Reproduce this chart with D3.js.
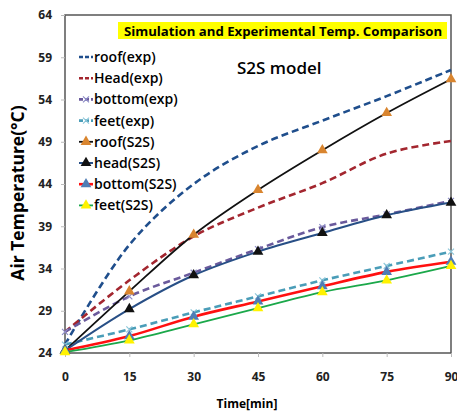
<!DOCTYPE html>
<html>
<head>
<meta charset="utf-8">
<script src="https://cdn.jsdelivr.net/npm/d3@7"></script>
<style>
  body { margin: 0; background: #fff; }
  svg { font-family: "Open Sans", "Noto Sans", sans-serif; }
</style>
</head>
<body>
<svg width="457" height="417"></svg>
<script>
// time axis, minutes
var times = [0, 15, 30, 45, 60, 75, 90];
var yTicks = [24, 29, 34, 39, 44, 49, 54, 59, 64];

// temperatures
var roofExp   = [25.0, 36.8, 44.0, 48.5, 51.5, 54.4, 57.5];
var headExp   = [26.5, 32.6, 37.8, 41.2, 44.1, 47.6, 49.1];
var bottomExp = [26.5, 30.7, 33.5, 36.3, 38.9, 40.4, 42.0];
var feetExp   = [25.0, 26.8, 28.8, 30.7, 32.6, 34.3, 36.0];
var roofS2S   = [24.3, 31.3, 38.0, 43.3, 48.0, 52.4, 56.4];
var headS2S   = [24.3, 29.2, 33.2, 36.0, 38.2, 40.3, 41.8];
var bottomS2S = [24.3, 26.0, 28.3, 30.1, 31.9, 33.6, 34.8];
var feetS2S   = [24.1, 25.5, 27.4, 29.3, 31.2, 32.6, 34.3];

var series = [
  {name: "roof(exp)",   vals: roofExp,   line: "#1F4E8C", dash: "7,4", w: 2.6, mark: null},
  {name: "Head(exp)",   vals: headExp,   line: "#A3262F", dash: "7,4", w: 2.6, mark: null},
  {name: "bottom(exp)", vals: bottomExp, line: "#6A5A9C", dash: "7,4", w: 2.6, mark: "x", mcol: "#8E8EC8"},
  {name: "feet(exp)",   vals: feetExp,   line: "#4A9DB8", dash: "7,4", w: 2.6, mark: "x", mcol: "#8FC8DA"},
  {name: "roof(S2S)",   vals: roofS2S,   line: "#111111", dash: null,  w: 1.8, mark: "tri", mcol: "#D9852F"},
  {name: "head(S2S)",   vals: headS2S,   line: "#284F86", dash: null,  w: 2.0, mark: "tri", mcol: "#111111"},
  {name: "bottom(S2S)", vals: bottomS2S, line: "#FF1010", dash: null,  w: 2.6, mark: "tri", mcol: "#4F7DB5"},
  {name: "feet(S2S)",   vals: feetS2S,   line: "#1BA84A", dash: null,  w: 1.8, mark: "tri", mcol: "#FFF200"}
];

var svg = d3.select("svg");
var plotL = 65, plotR = 451, plotT = 15, plotB = 353;

var x = d3.scaleLinear().domain([0, 90]).range([plotL, plotR]);
var y = d3.scaleLinear().domain([24, 64]).range([plotB, plotT]);

// frame
svg.append("rect")
  .attr("x", plotL).attr("y", plotT)
  .attr("width", plotR - plotL).attr("height", plotB - plotT)
  .style("fill", "#fff").style("stroke", "#555").style("stroke-width", 1.5);

// axes
var yAxis = svg.append("g")
  .attr("transform", "translate(" + plotL + ",0)")
  .call(d3.axisLeft(y).tickValues(yTicks).tickSize(4).tickPadding(9));
var xAxis = svg.append("g")
  .attr("transform", "translate(0," + plotB + ")")
  .call(d3.axisBottom(x).tickValues(times).tickSize(4).tickPadding(15));
[xAxis, yAxis].forEach(function(g) {
  g.select(".domain").remove();
  g.selectAll("line").style("stroke", "#bbb");
  g.selectAll("text")
    .style("font-family", "'Open Sans', sans-serif")
    .style("font-size", "12px").style("font-weight", "bold").style("fill", "#222");
});

// axis titles
svg.append("text")
  .attr("transform", "translate(24,193) rotate(-90)")
  .attr("text-anchor", "middle")
  .style("font-size", "17.5px").style("font-weight", "bold")
  .text("Air Temperature(°C)");
svg.append("text")
  .attr("x", 247).attr("y", 408)
  .attr("text-anchor", "middle")
  .style("font-size", "12px").style("font-weight", "bold")
  .text("Time[min]");

// title box
svg.append("rect")
  .attr("x", 118).attr("y", 22).attr("width", 329).attr("height", 17)
  .style("fill", "#FFFF00");
svg.append("text")
  .attr("x", 283).attr("y", 35.5)
  .attr("text-anchor", "middle")
  .style("font-size", "13.2px").style("font-weight", "bold")
  .text("Simulation  and  Experimental Temp. Comparison");

svg.append("text")
  .attr("x", 237).attr("y", 74)
  .style("font-size", "17px").style("font-weight", "600")
  .text("S2S model");

// lines
var line = d3.line()
  .x(function(d, i) { return x(times[i]); })
  .y(function(d) { return y(d); })
  .curve(d3.curveCatmullRom.alpha(0.5));

var tri = d3.symbol().type(d3.symbolTriangle).size(50);

function drawMark(g, s, cx, cy) {
  if (s.mark == "tri") {
    g.append("path").attr("d", tri)
      .attr("transform", "translate(" + cx + "," + cy + ")")
      .style("fill", s.mcol);
  } else if (s.mark == "x") {
    g.append("path")
      .attr("d", "M-3,-3L3,3M-3,3L3,-3")
      .attr("transform", "translate(" + cx + "," + cy + ")")
      .style("stroke", s.mcol).style("stroke-width", 1.2).style("fill", "none");
  }
}

series.forEach(function(s) {
  svg.append("path")
    .datum(s.vals)
    .attr("d", line)
    .style("fill", "none")
    .style("stroke", s.line)
    .style("stroke-width", s.w)
    .style("stroke-dasharray", s.dash);
});
series.forEach(function(s) {
  var g = svg.append("g");
  s.vals.forEach(function(v, i) { drawMark(g, s, x(times[i]), y(v)); });
});

// legend
var leg = svg.append("g");
series.forEach(function(s, i) {
  var ly = 57 + i * 21.2;
  leg.append("line")
    .attr("x1", 79).attr("x2", 93).attr("y1", ly).attr("y2", ly)
    .style("stroke", s.line).style("stroke-width", s.w)
    .style("stroke-dasharray", s.dash ? "4,2" : null);
  drawMark(leg, s, 86, ly);
  leg.append("text")
    .attr("x", 94).attr("y", ly + 5)
    .style("font-size", "14px").style("font-weight", "600")
    .text(s.name);
});
</script>
</body>
</html>
